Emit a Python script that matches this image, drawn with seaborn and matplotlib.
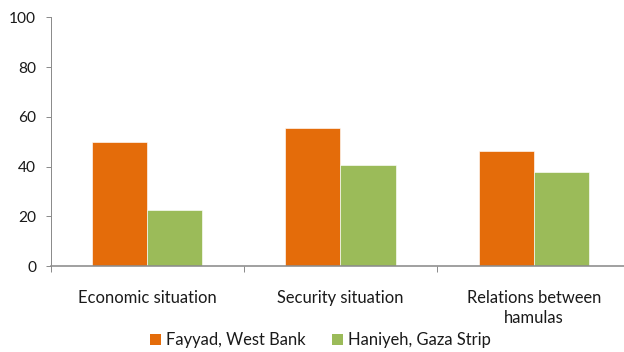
import matplotlib
matplotlib.use("Agg")
import matplotlib.pyplot as plt
from matplotlib.patches import Patch
import seaborn as sns
import pandas as pd

categories = ["Economic situation", "Security situation", "Relations between\nhamulas"]
fayyad = [50.0, 55.5, 46.1]
haniyeh = [22.4, 40.6, 37.8]
series_names = ["Fayyad, West Bank", "Haniyeh, Gaza Strip"]
colors = ["#E46C0A", "#9BBB59"]
y_ticks = [0, 20, 40, 60, 80, 100]

df = pd.DataFrame({
    "category": categories * 2,
    "value": fayyad + haniyeh,
    "series": [series_names[0]] * 3 + [series_names[1]] * 3,
})

sns.set_style("white")
plt.rcParams["font.family"] = ["Lato", "DejaVu Sans"]

W, H = 624, 352
# work in pixels: at 72 dpi one point equals one pixel
fig = plt.figure(figsize=(W / 72, H / 72), dpi=72)
left, right, top, bottom = 50.7, 624.0, 17.3, 266.0
ax = fig.add_axes([left / W, (H - bottom) / H, (right - left) / W, (bottom - top) / H])

sns.barplot(data=df, x="category", y="value", hue="series", order=categories,
            hue_order=series_names, palette=colors, width=0.57, ax=ax,
            edgecolor="white", linewidth=0.6, legend=False, saturation=1)

cat_px = 193.2
ax.set_xlim(-0.5, -0.5 + (right - left) / cat_px)
ax.set_ylim(0, 100)
ax.set_yticks(y_ticks)
ax.set_xlabel("")
ax.set_ylabel("")

spine_color = "#8C8C8C"
for s in ["top", "right"]:
    ax.spines[s].set_visible(False)
ax.spines["left"].set_color(spine_color)
ax.spines["bottom"].set_color(spine_color)
ax.spines["left"].set_linewidth(1.0)
ax.spines["bottom"].set_linewidth(1.6)

ax.tick_params(axis="y", direction="out", length=5.5, width=1, color=spine_color,
               labelsize=15.5, labelcolor="#1A1A1A", pad=9, left=True)
ax.set_xticks(range(len(categories)))
ax.set_xticklabels(categories, linespacing=1.3)
ax.tick_params(axis="x", length=0, labelsize=16.5, labelcolor="#1A1A1A", pad=24)
ax.set_xticks([-0.5, 0.5, 1.5], minor=True)
ax.tick_params(axis="x", which="minor", direction="out", length=6, width=1,
               color=spine_color, bottom=True)

handles = [Patch(facecolor=c, edgecolor="none") for c in colors]
fig.legend(handles, series_names, loc="center", bbox_to_anchor=(320.6 / W, 1 - 340 / H),
           ncol=2, frameon=False, fontsize=16.5, handlelength=0.65, handleheight=0.65,
           handletextpad=0.3, columnspacing=1.6, labelcolor="#1A1A1A",
           borderaxespad=0, borderpad=0)

fig.savefig("out.png", dpi=72)
